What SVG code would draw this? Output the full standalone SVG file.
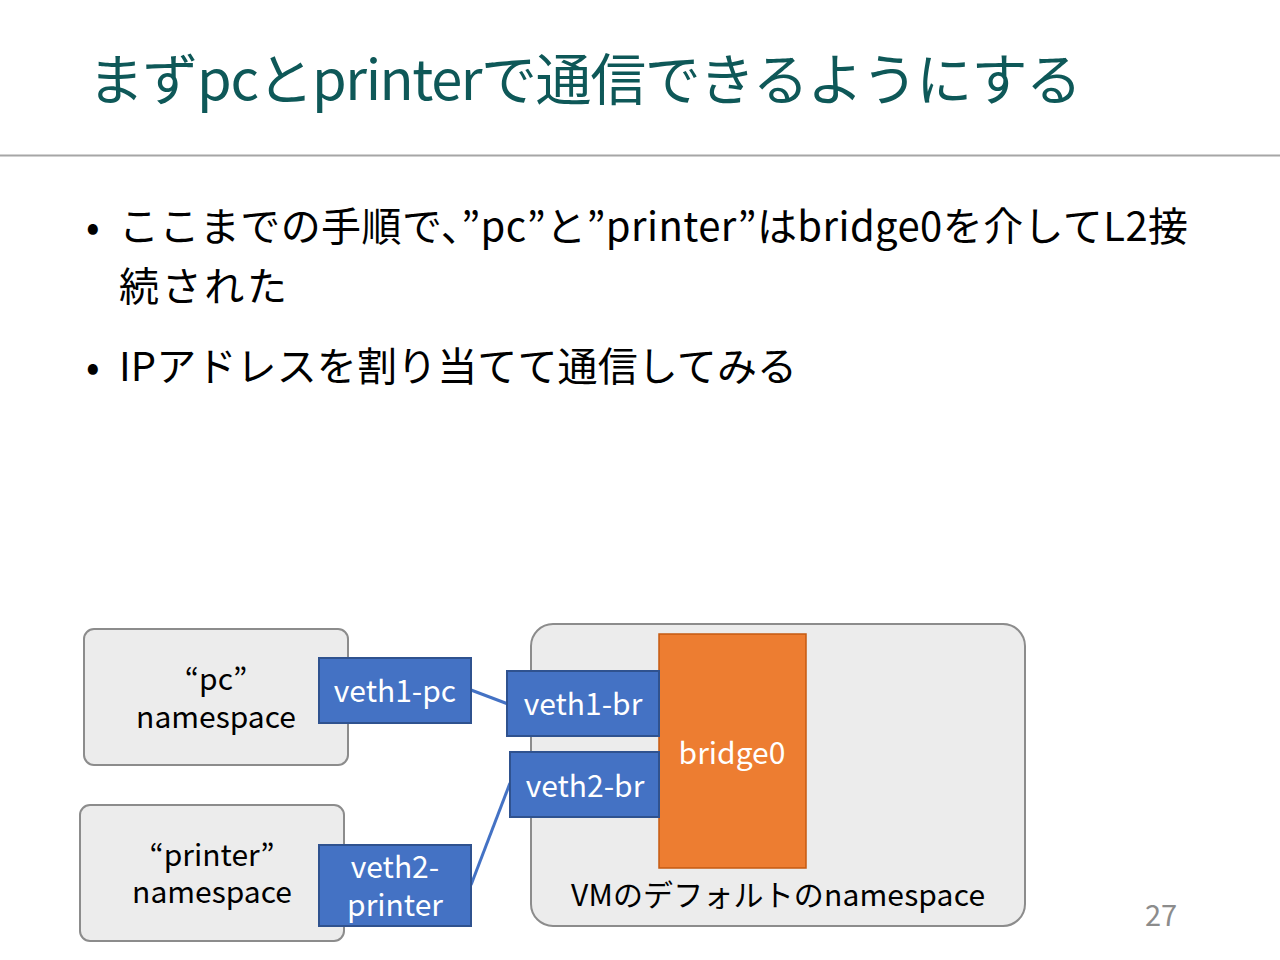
<svg xmlns="http://www.w3.org/2000/svg" width="1280" height="960" viewBox="0 0 1280 960">
<style>
text{font-family:"Noto Sans CJK JP","Noto Sans",sans-serif}
.ns{fill:#ececec;stroke:#8c8c8c;stroke-width:2}
.veth{fill:#4472C4;stroke:#2F528F;stroke-width:2}
.wt{fill:#ffffff;font-size:30px;text-anchor:middle}
.bt{fill:#000000;font-size:30px;text-anchor:middle}
.link{stroke:#4472C4;stroke-width:3;fill:none}
</style>
<rect width="1280" height="960" fill="#ffffff"/>
<g id="title"><text x="88" y="100" font-size="56" fill="#0E5858" textLength="994">まずpcとprinterで通信できるようにする</text></g>
<line x1="0" y1="155.5" x2="1280" y2="155.5" stroke="#a6a6a6" stroke-width="2"/>
<g id="bullets" font-size="40" fill="#000">
<text x="86" y="241">•</text>
<text x="119" y="241" textLength="1069">ここまでの手順で、”pc”と”printer”はbridge0を介してL2接</text>
<text x="119" y="301" textLength="168">続された</text>
<text x="86" y="381">•</text>
<text x="119" y="381" textLength="678">IPアドレスを割り当てて通信してみる</text>
</g>
<g id="vm-ns"><rect class="ns" x="531" y="624" width="494" height="302" rx="22"/><text class="bt" x="778" y="906" textLength="414">VMのデフォルトのnamespace</text></g>
<g id="pc-ns"><rect class="ns" x="84" y="629" width="264" height="136" rx="10"/><text class="bt" x="216" y="690">“pc”</text><text class="bt" x="216" y="728">namespace</text></g>
<g id="printer-ns"><rect class="ns" x="80" y="805" width="264" height="136" rx="10"/><text class="bt" x="212" y="866">“printer”</text><text class="bt" x="212" y="903">namespace</text></g>
<g id="connectors">
<line class="link" x1="471" y1="690" x2="508" y2="704"/>
<line class="link" x1="471" y1="885" x2="510" y2="783"/>
</g>
<g id="veth1-pc"><rect class="veth" x="319" y="658" width="152" height="65"/><text class="wt" x="395" y="702">veth1-pc</text></g>
<g id="veth2-printer"><rect class="veth" x="319" y="845" width="152" height="81"/><text class="wt" x="395" y="878">veth2-</text><text class="wt" x="395" y="916">printer</text></g>
<g id="bridge0"><rect x="659" y="634" width="147" height="234" fill="#ED7D31" stroke="#C55A11" stroke-width="1.5"/><text class="wt" x="732" y="764">bridge0</text></g>
<g id="veth1-br"><rect class="veth" x="507" y="671" width="152" height="65"/><text class="wt" x="583" y="715">veth1-br</text></g>
<g id="veth2-br"><rect class="veth" x="510" y="752" width="149" height="65"/><text class="wt" x="585" y="797">veth2-br</text></g>
<g id="page"><text x="1161" y="926" font-size="29" fill="#8c8c8c" text-anchor="middle">27</text></g>
</svg>
